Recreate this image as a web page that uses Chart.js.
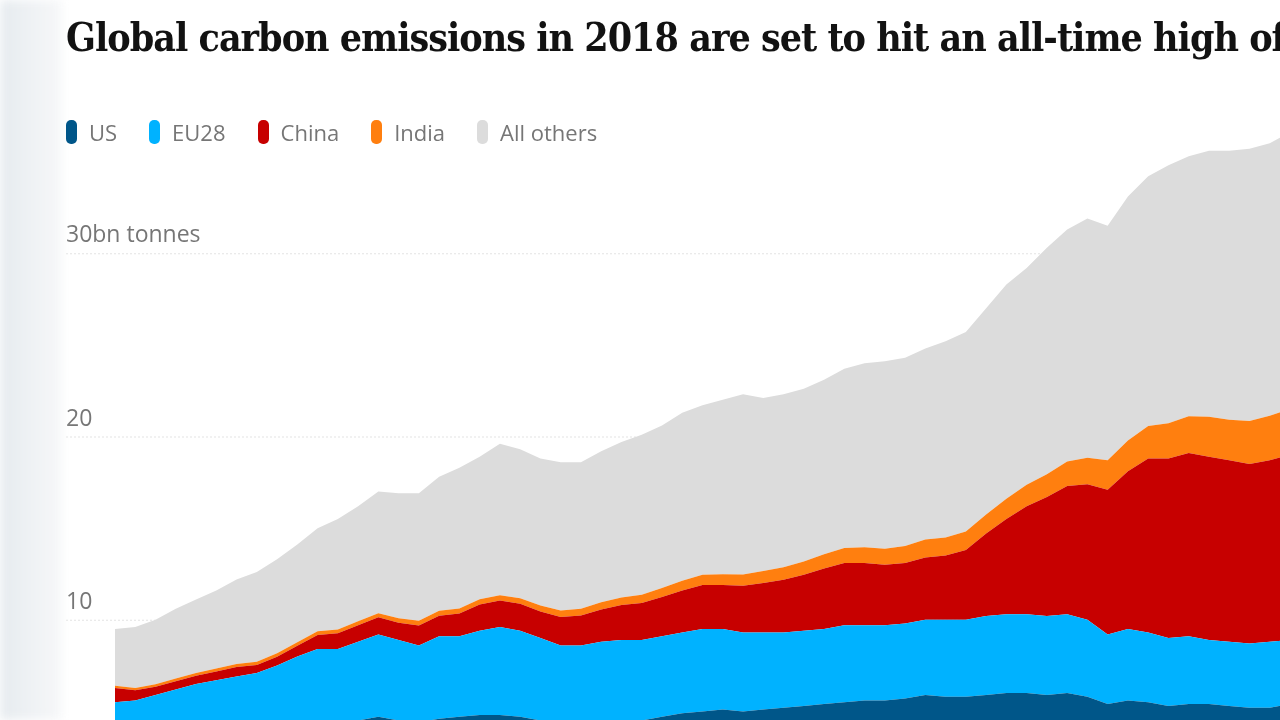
<!DOCTYPE html>
<html><head><meta charset="utf-8">
<script src="https://cdn.jsdelivr.net/npm/chart.js@4"></script>
<style>
html,body{margin:0;padding:0;width:1280px;height:720px;overflow:hidden;background:#fff;}
#wrap{position:absolute;left:0;top:0;width:1300px;height:820px;}
#title{position:absolute;left:66px;top:14px;white-space:nowrap;font-family:"DejaVu Serif Condensed","DejaVu Serif",serif;font-weight:bold;font-size:39px;letter-spacing:-1px;color:#121212;}
#legend{position:absolute;left:66px;top:117px;font-family:"Open Sans",sans-serif;font-size:22px;color:#767676;display:flex;}
.li{display:flex;align-items:center;margin-right:32px;}
.sw{width:11px;height:24px;border-radius:5px;margin-right:12px;}
#side{position:absolute;left:0;top:0;width:62px;height:720px;background:linear-gradient(90deg,#e6ebef,#f7f8f9);filter:blur(5px);}
</style></head><body>
<div id="wrap"><canvas id="c" width="1300" height="820"></canvas></div>
<div id="side"></div>
<div id="title">Global carbon emissions in 2018 are set to hit an all-time high of</div>
<div id="legend"></div>
<script>
const years=[];for(let y=1960;y<=2018;y++)years.push(y);
const US=[2.9,2.9,3.0,3.1,3.3,3.4,3.6,3.7,3.9,4.1,4.3,4.3,4.5,4.7,4.5,4.4,4.6,4.7,4.8,4.8,4.7,4.5,4.3,4.3,4.5,4.5,4.5,4.7,4.9,5.0,5.1,5.0,5.1,5.2,5.3,5.4,5.5,5.6,5.6,5.7,5.9,5.8,5.8,5.9,6.0,6.0,5.9,6.0,5.8,5.4,5.6,5.5,5.3,5.4,5.4,5.3,5.2,5.2,5.4];
const EU28=[2.6,2.7,2.9,3.1,3.2,3.3,3.3,3.4,3.6,3.9,4.1,4.1,4.3,4.5,4.4,4.2,4.5,4.4,4.6,4.8,4.7,4.5,4.3,4.3,4.3,4.4,4.4,4.4,4.4,4.5,4.4,4.3,4.2,4.1,4.1,4.1,4.2,4.1,4.1,4.1,4.1,4.2,4.2,4.3,4.3,4.3,4.3,4.3,4.2,3.8,3.9,3.8,3.7,3.7,3.5,3.5,3.5,3.6,3.5];
const China=[0.78,0.55,0.44,0.44,0.44,0.48,0.52,0.43,0.48,0.58,0.77,0.86,0.9,0.93,0.94,1.08,1.12,1.24,1.43,1.45,1.47,1.45,1.55,1.63,1.76,1.9,2.01,2.14,2.3,2.4,2.4,2.55,2.7,2.88,3.06,3.3,3.4,3.4,3.3,3.3,3.4,3.5,3.8,4.5,5.2,5.9,6.5,7.0,7.4,7.9,8.6,9.5,9.8,10.0,10.0,9.9,9.8,9.9,10.1];
const India=[.12,.13,.14,.15,.15,.16,.17,.18,.19,.19,.20,.21,.22,.23,.24,.26,.27,.28,.29,.29,.30,.33,.35,.37,.39,.42,.45,.49,.53,.56,.58,.62,.66,.68,.72,.78,.82,.86,.88,.92,.98,.99,1.01,1.05,1.1,1.17,1.24,1.34,1.44,1.6,1.68,1.77,1.92,2.0,2.18,2.22,2.35,2.43,2.5];
const Others=[3.1,3.32,3.52,3.81,4.01,4.26,4.61,4.89,5.13,5.33,5.63,6.03,6.28,6.64,6.82,6.96,7.31,7.68,7.78,8.26,8.13,8.02,8.1,8.0,8.25,8.48,8.74,8.87,9.17,9.24,9.52,9.83,9.44,9.44,9.42,9.52,9.78,10.04,10.22,10.28,10.42,10.71,10.89,11.25,11.7,11.83,12.36,12.66,13.06,12.8,13.32,13.63,14.08,14.2,14.52,14.68,14.85,14.87,15.1];
const tickValues=[10,20,30];
const tickLabels=["10","20","30bn tonnes"];
const names=["US","EU28","China","India","All others"];
const colors=["#005689","#00b2ff","#c70000","#ff7f0f","#dcdcdc"];
const series=[US,EU28,China,India,Others];

const lg=document.getElementById('legend');
names.forEach((n,i)=>{lg.insertAdjacentHTML('beforeend',`<div class="li"><div class="sw" style="background:${colors[i]}"></div>${n}</div>`);});

const gridPlugin={id:'grid',beforeDatasetsDraw(chart){
  const ctx=chart.ctx,ys=chart.scales.y;
  ctx.save();
  tickValues.forEach((v,i)=>{
    const p=ys.getPixelForValue(v);
    ctx.strokeStyle='#e4e4e4';ctx.lineWidth=1;ctx.setLineDash([2,2]);
    ctx.beginPath();ctx.moveTo(66,p+0.5);ctx.lineTo(1300,p+0.5);ctx.stroke();
    ctx.setLineDash([]);
    ctx.fillStyle='#767676';ctx.font='23px "Open Sans", sans-serif';ctx.textBaseline='alphabetic';ctx.textAlign='left';
    ctx.fillText(tickLabels[i],66,p-11);
  });
  ctx.restore();
}};

new Chart(document.getElementById('c'),{
  type:'line',
  data:{labels:years,datasets:series.map((d,i)=>({label:names[i],data:d.map((v,j)=>({x:years[j],y:v})),backgroundColor:colors[i],borderWidth:0,pointRadius:0,fill:i===0?'origin':'-1',tension:0}))},
  options:{responsive:false,animation:false,
    layout:{padding:{left:115,right:10,top:70,bottom:17}},
    plugins:{legend:{display:false},tooltip:{enabled:false}},
    scales:{x:{type:'linear',min:1960,max:2018,display:false},
            y:{stacked:true,min:0,max:40,display:false}}},
  plugins:[gridPlugin]
});
</script>
</body></html>
